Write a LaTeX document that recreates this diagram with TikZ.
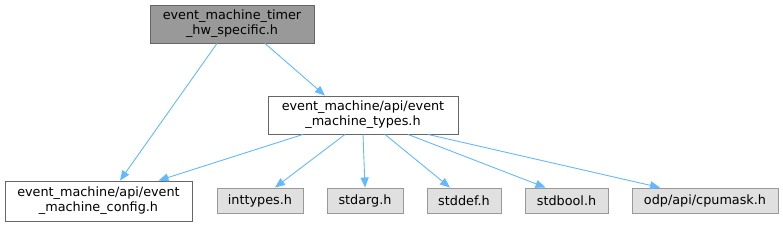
\documentclass[tikz,border=0pt]{standalone}
\usepackage{fontspec}
\setmainfont{DejaVu Sans}
\usetikzlibrary{arrows.meta}
\definecolor{edgeblue}{HTML}{63B8FF}
\definecolor{boxborder}{HTML}{666666}
\definecolor{sysborder}{HTML}{999999}
\definecolor{sysfill}{HTML}{E0E0E0}
\definecolor{topfill}{HTML}{999999}
\begin{document}
\begin{tikzpicture}[x=1pt,y=-1pt,
  every node/.style={font=\fontsize{12.8}{15}\selectfont, inner sep=0pt, align=center},
  filebox/.style={draw=boxborder, fill=white, line width=0.9pt},
  topbox/.style={draw=boxborder, fill=topfill, line width=0.9pt},
  sysbox/.style={draw=sysborder, fill=sysfill, line width=0.9pt},
  dep/.style={draw=edgeblue, line width=0.9pt, -{Stealth[length=10pt,width=8pt,inset=0pt]}}]
\useasboundingbox (0,0) rectangle (783,227);
\node[topbox, minimum width=164pt, minimum height=38pt] (top) at (232,24) {event\_machine\_timer\\\_hw\_specific.h};
\node[filebox, minimum width=190pt, minimum height=38pt] (types) at (363,115) {event\_machine/api/event\\\_machine\_types.h};
\node[filebox, minimum width=187pt, minimum height=40pt] (config) at (98.5,201) {event\_machine/api/event\\\_machine\_config.h};
\node[sysbox, minimum width=86pt, minimum height=25pt] (inttypes) at (260,200.5) {inttypes.h};
\node[sysbox, minimum width=76pt, minimum height=25pt] (stdarg) at (365,200.5) {stdarg.h};
\node[sysbox, minimum width=74pt, minimum height=25pt] (stddef) at (464,200.5) {stddef.h};
\node[sysbox, minimum width=83pt, minimum height=25pt] (stdbool) at (566.5,200.5) {stdbool.h};
\node[sysbox, minimum width=146pt, minimum height=25pt] (cpumask) at (705,200.5) {odp/api/cpumask.h};
\draw[dep] ([xshift=-15pt]top.south) -- ([xshift=21.5pt]config.north);
\draw[dep] ([xshift=33pt]top.south) -- ([xshift=-38pt]types.north);
\draw[dep] ([xshift=-60pt]types.south) -- ([xshift=60pt]config.north);
\draw[dep] ([xshift=-18pt]types.south) -- ([xshift=15pt]inttypes.north);
\draw[dep] (types.south) -- (stdarg.north);
\draw[dep] ([xshift=22pt]types.south) -- ([xshift=-14pt]stddef.north);
\draw[dep] ([xshift=45pt]types.south) -- ([xshift=-21pt]stdbool.north);
\draw[dep] ([xshift=65pt]types.south) -- ([xshift=-45pt]cpumask.north);
\end{tikzpicture}
\end{document}
